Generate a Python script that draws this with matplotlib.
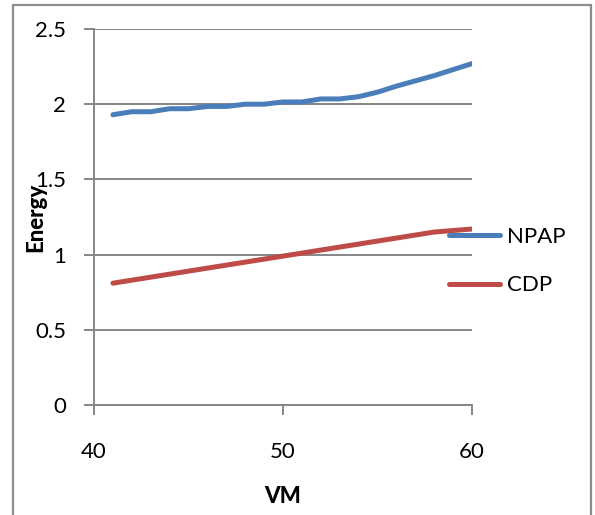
import numpy as np
import matplotlib
matplotlib.use("Agg")
import matplotlib.pyplot as plt
from matplotlib.patches import Rectangle

plt.rcParams["font.family"] = ["Lato", "DejaVu Sans"]

vm = [41, 42, 43, 44, 45, 46, 47, 48, 49, 50,
      51, 52, 53, 54, 55, 56, 57, 58, 59, 60]
npap = [1.93, 1.95, 1.95, 1.97, 1.97, 1.985, 1.985, 2.0, 2.0, 2.015,
        2.015, 2.035, 2.035, 2.05, 2.08, 2.12, 2.155, 2.19, 2.23, 2.27]
cdp = [0.81, 0.83, 0.85, 0.87, 0.89, 0.91, 0.93, 0.95, 0.97, 0.99,
       1.01, 1.03, 1.05, 1.07, 1.09, 1.11, 1.13, 1.15, 1.16, 1.17]

GRAY = "#868686"
FS = 16

fig = plt.figure(figsize=(5.95, 5.15), dpi=100)
ax = fig.add_axes([94/595, 110/515, 378/595, 376/515])

ax.plot(vm, npap, color="#4A7EBB", lw=3.6, solid_capstyle="round",
        solid_joinstyle="round", label="NPAP")
ax.plot(vm, cdp, color="#BE4B48", lw=3.6, solid_capstyle="round",
        solid_joinstyle="round", label="CDP")

ax.set_xlim(40, 60)
ax.set_ylim(0, 2.5)
ax.set_xticks([40, 50, 60])
ax.set_yticks([0, 0.5, 1, 1.5, 2, 2.5])
ax.set_yticklabels(["0", "0.5", "1", "1.5", "2", "2.5"])
ax.grid(axis="y", color=GRAY, lw=1.4)
ax.set_axisbelow(True)
for s in ["top", "right"]:
    ax.spines[s].set_visible(False)
for s in ["left", "bottom"]:
    ax.spines[s].set_color(GRAY)
    ax.spines[s].set_linewidth(1.4)
ax.tick_params(axis="both", color=GRAY, width=1.4, length=7, labelsize=FS)
ax.tick_params(axis="x", pad=20)
ax.tick_params(axis="y", pad=13)

ax.set_xlabel("VM", fontsize=FS, fontweight="black")
ax.xaxis.set_label_coords(0.5, -0.215)
ax.set_ylabel("Energy", fontsize=FS, fontweight="black")
ax.yaxis.set_label_coords(-0.125, 0.5)

fig.legend(loc="center left", bbox_to_anchor=(440/595, 1 - 261/515),
           frameon=False, fontsize=FS, handlelength=2.3, handletextpad=0.3,
           labelspacing=1.3, borderaxespad=0)

fig.patches.append(Rectangle((13/595, -0.1), 578/595, 1.1 - 5/515,
                             transform=fig.transFigure, fill=False,
                             edgecolor="#8c8c8c", lw=1.6))

fig.savefig("out.png", dpi=100)
